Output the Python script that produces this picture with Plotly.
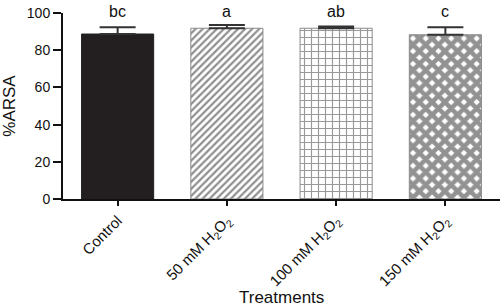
import plotly.graph_objects as go

categories = ["Control", "50 mM H<sub>2</sub>O<sub>2</sub>", "100 mM H<sub>2</sub>O<sub>2</sub>", "150 mM H<sub>2</sub>O<sub>2</sub>"]
values = [88.7, 91.8, 91.8, 88.3]
errors = [3.6, 1.7, 1.0, 4.0]
letters = ["bc", "a", "ab", "c"]
yticks = [0, 20, 40, 60, 80, 100]

font_family = "Liberation Sans, Arial, Helvetica, sans-serif"

shapes_pat = ["", "/", "+", "x"]
fg = ["#231f20", "#1f1f1f", "#333333", "#262626"]
bg = ["#231f20", "white", "white", "white"]
solid = [0.3, 0.45, 0.3, 0.76]
sizes = [8, 5, 7, 9]

fig = go.Figure()
for i, c in enumerate(categories):
    fig.add_trace(go.Bar(
        x=[c], y=[values[i]],
        width=0.66,
        marker=dict(
            color=bg[i],
            line=dict(color="#8a8a8a" if i else "#231f20", width=1),
            pattern=dict(shape=shapes_pat[i], fgcolor=fg[i], bgcolor=bg[i],
                         size=sizes[i], solidity=solid[i], fillmode="overlay"),
        ),
        error_y=dict(type="data", array=[errors[i]], arrayminus=[0], symmetric=False,
                     color="#333333", thickness=2, width=18),
        showlegend=False,
    ))

for i, c in enumerate(categories):
    fig.add_annotation(x=c, xref="x", y=1.01, yref="paper", text=letters[i], showarrow=False,
                       yanchor="middle", font=dict(size=16, color="#111", family=font_family))

fig.add_annotation(x=0.5, xref="paper", y=-0.527, yref="paper", text="Treatments",
                   showarrow=False, yanchor="middle",
                   font=dict(size=17, color="#111", family=font_family))

fig.update_layout(
    width=500, height=308,
    margin=dict(l=63, r=0, t=13, b=109, autoexpand=False),
    plot_bgcolor="white", paper_bgcolor="white",
    font=dict(family=font_family, color="#111"),
)
fig.update_xaxes(
    range=[-0.5, 3.5], showline=True, linecolor="#111", linewidth=2,
    ticks="outside", ticklen=5, tickwidth=2, tickcolor="#111",
    tickangle=-45, tickfont=dict(size=15),
    showgrid=False, zeroline=False, automargin=False,
)
fig.update_yaxes(
    range=[0, 100], tickvals=yticks, showline=True, linecolor="#111", linewidth=2,
    ticks="outside", ticklen=8, tickwidth=2, tickcolor="#111",
    tickfont=dict(size=14),
    title=dict(text="%ARSA", font=dict(size=17), standoff=8),
    showgrid=False, zeroline=False, automargin=False,
)

fig.write_html("out.html", config={"displayModeBar": False},
               post_script="document.body.style.margin='0';document.body.style.overflow='hidden';")
